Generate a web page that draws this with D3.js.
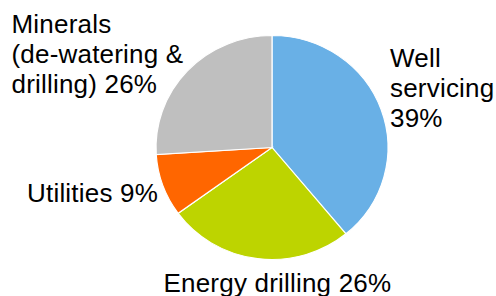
<!DOCTYPE html>
<html lang="en">
<head>
<meta charset="UTF-8">
<title>Pie</title>
<script src="https://cdn.jsdelivr.net/npm/d3@7"></script>
<style>
    body { margin: 0; background: #fff; }
    text { font-family: "Liberation Sans", Arial, sans-serif; font-size: 26px; letter-spacing: 0.2px; fill: #000; }
</style>
</head>
<body>
<div id="chart"></div>
<script>
    var categories = ["Well servicing", "Energy drilling", "Utilities", "Minerals (de-watering & drilling)"];
    var shares = [39, 26, 9, 26];
    var colors = ["#69B0E6", "#BDD400", "#FF6600", "#BFBFBF"];
    // label lines, one list per slice
    var labelLines = [
        ["Well", "servicing", "39%"],
        ["Energy drilling 26%"],
        ["Utilities 9%"],
        ["Minerals", "(de-watering &", "drilling) 26%"]
    ];

    var width = 496, height = 296;
    var cx = 272, cy = 147.5, rx = 116, ry = 112;
    // where each label block starts (left x, first baseline)
    var labelPos = [[390, 67], [163.5, 291.5], [27, 201.5], [11.5, 33]];
    var lineH = 30;

    var svg = d3.select("#chart").append("svg")
        .attr("width", width)
        .attr("height", height);

    var data = categories.map(function(c, i) { return { name: c, value: shares[i] }; });

    var pie = d3.pie().sort(null).value(function(d) { return d.value; });
    var arc = d3.arc().innerRadius(0).outerRadius(rx);

    var g = svg.append("g")
        .attr("transform", "translate(" + cx + "," + cy + ") scale(1," + (ry / rx) + ")");

    g.selectAll("path")
        .data(pie(data))
        .enter().append("path")
        .attr("d", arc)
        .attr("fill", function(d, i) { return colors[i]; })
        .attr("stroke", "#fff")
        .attr("stroke-width", 1.2);

    labelLines.forEach(function(lines, i) {
        var t = svg.append("text")
            .attr("x", labelPos[i][0])
            .attr("y", labelPos[i][1]);
        lines.forEach(function(l, j) {
            t.append("tspan")
                .attr("x", labelPos[i][0])
                .attr("dy", j == 0 ? 0 : lineH)
                .text(l);
        });
    });
</script>
</body>
</html>
